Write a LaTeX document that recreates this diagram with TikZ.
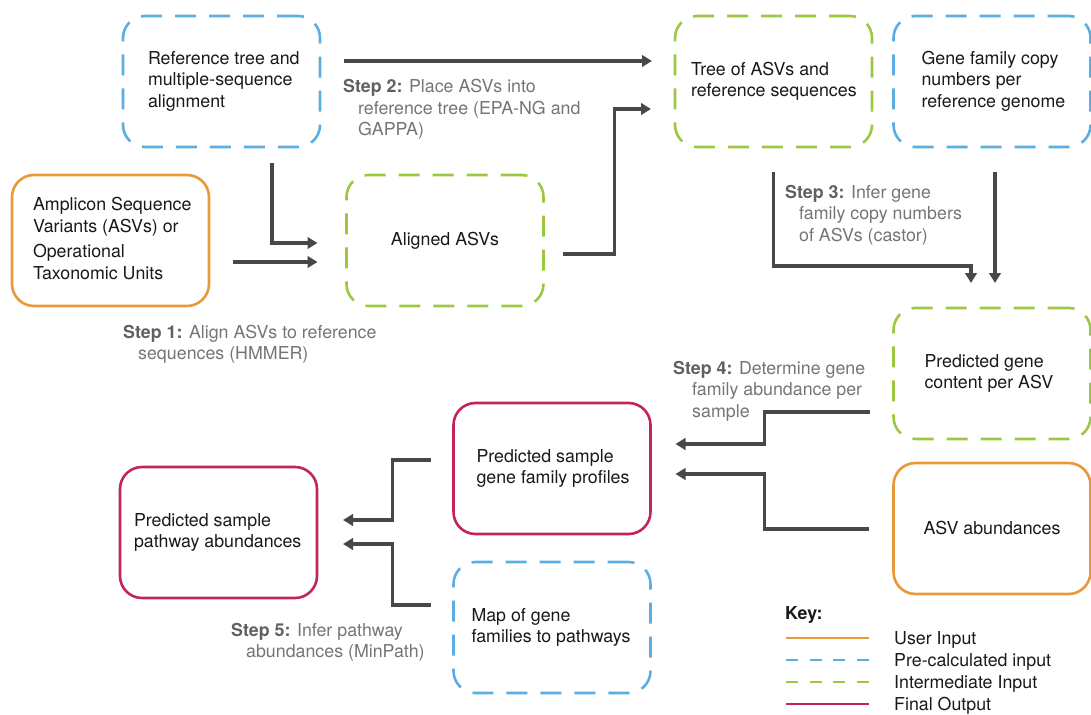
\documentclass[tikz,border=0pt]{standalone}
\usepackage{fontspec}
\setmainfont{TeX Gyre Heros}
\usetikzlibrary{arrows.meta,calc}
\definecolor{uorange}{HTML}{E8993A}
\definecolor{pblue}{HTML}{5BAEE3}
\definecolor{igreen}{HTML}{9CC841}
\definecolor{fred}{HTML}{C4245C}
\definecolor{arrgray}{HTML}{47484A}
\definecolor{stepgray}{HTML}{5F6062}
\definecolor{labgray}{HTML}{747578}
\newcommand\boxtxt[3][0]{\makebox[197pt][l]{\hspace*{#2pt}\raisebox{#1pt}{\begin{tabular}{@{}l@{}}#3\end{tabular}}}}
\newcommand\steptxt[1]{\begin{tabular}[t]{@{}l@{}}#1\end{tabular}}
\newcommand\stepnum[1]{{\bfseries\color{stepgray}Step #1:}}
\begin{document}
\begin{tikzpicture}[x=1pt,y=-1pt,
  every node/.style={font=\fontsize{17.8}{21.5}\selectfont},
  base/.style={rounded corners=22pt, line width=2.6pt, minimum width=197pt, minimum height=131pt, inner sep=0pt, outer sep=0pt, text=black!90},
  user/.style={base, draw=uorange},
  pre/.style={base, draw=pblue, dash pattern=on 21pt off 13pt},
  inter/.style={base, draw=igreen, dash pattern=on 21pt off 13pt},
  final/.style={base, draw=fred},
  arr/.style={draw=arrgray, line width=3.3pt, -{Triangle[length=10pt,width=11.5pt]}},
  steplab/.style={inner sep=0pt, anchor=base west, text=labgray},
  keylab/.style={inner sep=0pt, anchor=base west, text=black!90},
  keyline/.style={line width=2.6pt},
]
\useasboundingbox (0,0) rectangle (1091,714);

% boxes
\node[pre] (ref) at (221.5,81.5) {\boxtxt{25}{Reference tree and\\multiple-sequence\\alignment}};
\node[user] (amp) at (110.5,240.5) {\boxtxt{21}{Amplicon Sequence\\Variants (ASVs) or\\[4pt]Operational\\Taxonomic Units}};
\node[inter] (aligned) at (445,240.5) {Aligned ASVs};
\node[inter] (tree) at (773.5,81.5) {\boxtxt[2]{16}{Tree of ASVs and\\reference sequences}};
\node[pre] (gene) at (992,81.5) {\boxtxt{28}{Gene family copy\\numbers per\\reference genome}};
\node[inter] (pgc) at (992,373.5) {\boxtxt[2.5]{31}{Predicted gene\\content per ASV}};
\node[user] (asv) at (992,528.5) {ASV abundances};
\node[final] (psg) at (552,468.5) {\boxtxt[2]{23}{Predicted sample\\gene family profiles}};
\node[final] (pwy) at (218.5,532.5) {\boxtxt[2]{14}{Predicted sample\\pathway abundances}};
\node[pre] (map) at (552,627.5) {\boxtxt[2]{18}{Map of gene\\families to pathways}};

% connectors
\draw[arr] ($(ref.south)+(50.5,16)$) |- ($(aligned.west)+(-29,2.5)$);
\draw[arr] ($(amp.east)+(24,21.5)$) -- ($(aligned.west)+(-29,21.5)$);
\draw[arr] ($(ref.east)+(24,-20.5)$) -- ($(tree.west)+(-23,-20.5)$);
\draw[arr] ($(aligned.east)+(19,13.5)$) -- ++(52,0) |- ($(tree.west)+(-24,27.5)$);
\draw[arr] ($(tree.south)+(0,25)$) -- ++(0,94) -| ($(pgc.north)+(-21,-25)$);
\draw[arr] ($(gene.south)+(3,25)$) -- ($(pgc.north)+(3,-25)$);
\draw[arr] ($(pgc.west)+(-24,38.5)$) -- ++(-105,0) |- ($(psg.east)+(25,-24.5)$);
\draw[arr] ($(asv.west)+(-25,0.5)$) -- ++(-104,0) |- ($(psg.east)+(25,5.5)$);
\draw[arr] ($(psg.west)+(-23,-8.5)$) -- ++(-38,0) |- ($(pwy.east)+(26,-12.5)$);
\draw[arr] ($(map.west)+(-23,-22.5)$) -- ++(-38,0) |- ($(pwy.east)+(26,11.5)$);

% step labels
\node[steplab] (s1) at (123,338) {\steptxt{\stepnum{1} Align ASVs to reference\\\hspace*{15pt}sequences (HMMER)}};
\node[steplab] (s2) at (343,93) {\steptxt{\stepnum{2} Place ASVs into\\\hspace*{15pt}reference tree (EPA-NG and\\\hspace*{15pt}GAPPA)}};
\node[steplab] (s3) at (785,198) {\steptxt{\stepnum{3} Infer gene\\\hspace*{14pt}family copy numbers\\\hspace*{14pt}of ASVs (castor)}};
\node[steplab] (s4) at (673,374) {\steptxt{\stepnum{4} Determine gene\\\hspace*{19pt}family abundance per\\\hspace*{19pt}sample}};
\node[steplab] (s5) at (231,636) {\steptxt{\stepnum{5} Infer pathway\\\hspace*{15pt}abundances (MinPath)}};

% key
\node[keylab, font=\fontsize{17.8}{21.5}\selectfont\bfseries] (key) at (785,619) {Key:};
\node[keylab] (k1) at (894,644) {User Input};
\node[keylab] (k2) at (894,666) {Pre-calculated input};
\node[keylab] (k3) at (894,688) {Intermediate Input};
\node[keylab] (k4) at (894,710) {Final Output};
\draw[keyline, draw=uorange] ($(k1.base west)+(-108,-6)$) -- ($(k1.base west)+(-25,-6)$);
\draw[keyline, draw=pblue, dash pattern=on 12pt off 11.67pt] ($(k2.base west)+(-108,-6)$) -- ($(k2.base west)+(-25,-6)$);
\draw[keyline, draw=igreen, dash pattern=on 12pt off 11.67pt] ($(k3.base west)+(-108,-6)$) -- ($(k3.base west)+(-25,-6)$);
\draw[keyline, draw=fred] ($(k4.base west)+(-108,-6)$) -- ($(k4.base west)+(-25,-6)$);
\end{tikzpicture}
\end{document}
